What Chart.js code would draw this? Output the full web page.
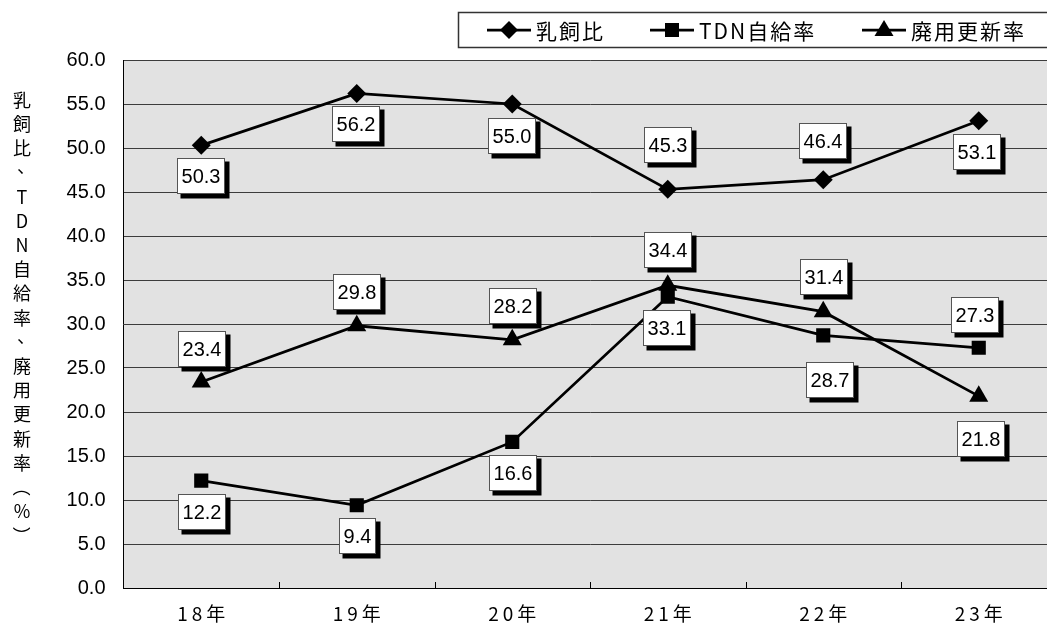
<!DOCTYPE html>
<html>
<head>
<meta charset="utf-8">
<script src="https://cdn.jsdelivr.net/npm/chart.js@4.4.1/dist/chart.umd.min.js"></script>
<style>
  html, body { margin: 0; padding: 0; background: #fff; overflow: hidden; }
  #wrap { position: relative; width: 1070px; height: 631px; }
</style>
</head>
<body>
<div id="wrap"><canvas id="chart" width="1070" height="631"></canvas></div>
<script>
const years = ['18年', '19年', '20年', '21年', '22年', '23年'];
const milkFeedRatio = [50.3, 56.2, 55.0, 45.3, 46.4, 53.1];
const tdnSelfRate = [12.2, 9.4, 16.6, 33.1, 28.7, 27.3];
const cullRate = [23.4, 29.8, 28.2, 34.4, 31.4, 21.8];
const seriesNames = ['乳飼比', 'TDN自給率', '廃用更新率'];
const yMin = 0, yMax = 60, yStep = 5;
const yTitle = '乳飼比、TDN自給率、廃用更新率（%）';

// where each value box sits, as offset of its centre from the point (px)
const labelOffsets = [
  [[-1, 30], [-1, 30.5], [-1, 31], [0, -45], [-1, -39.5], [-2, 31]],
  [[0, 31], [0, 30.5], [0, 30.5], [-1, 31], [6, 44], [-4, -33.5]],
  [[0, -34], [0, -34], [0, -34.5], [0, -35.5], [0, -35], [1.5, 42]]
];
// left end of each legend entry's sample line
const legendX = [487, 650, 862];

const CJK = '"Noto Sans CJK JP", sans-serif';
const SANS = '"Liberation Sans", Arial, sans-serif';

const plotBackground = {
  id: 'plotBackground',
  beforeDraw(chart) {
    const { ctx, chartArea: a } = chart;
    ctx.save();
    ctx.fillStyle = '#e2e2e2';
    ctx.fillRect(a.left, a.top, a.right - a.left, a.bottom - a.top);
    ctx.restore();
  }
};

const valueBoxes = {
  id: 'valueBoxes',
  afterDatasetsDraw(chart) {
    const ctx = chart.ctx;
    ctx.save();
    ctx.font = '20px ' + SANS;
    ctx.textAlign = 'center';
    ctx.textBaseline = 'middle';
    chart.data.datasets.forEach((ds, di) => {
      chart.getDatasetMeta(di).data.forEach((pt, i) => {
        const txt = ds.data[i].toFixed(1);
        const w = Math.round(ctx.measureText(txt).width) + 8;
        const h = 35;
        const cx = pt.x + labelOffsets[di][i][0];
        const cy = pt.y + labelOffsets[di][i][1];
        const l = Math.round(cx - w / 2) + 0.5;
        const t = Math.round(cy - h / 2) + 0.5;
        ctx.fillStyle = '#000';
        ctx.fillRect(l + 3, t + 3, w + 2, h + 2);
        ctx.fillStyle = '#fff';
        ctx.fillRect(l, t, w, h);
        ctx.strokeStyle = '#555';
        ctx.lineWidth = 1;
        ctx.strokeRect(l, t, w, h);
        ctx.fillStyle = '#000';
        ctx.fillText(txt, l + w / 2, t + h / 2 + 1);
      });
    });
    ctx.restore();
  }
};

function drawMarker(ctx, style, x, y) {
  ctx.beginPath();
  if (style === 'rectRot') {
    ctx.moveTo(x, y - 9); ctx.lineTo(x + 9, y); ctx.lineTo(x, y + 9); ctx.lineTo(x - 9, y);
  } else if (style === 'rect') {
    ctx.rect(x - 7, y - 7, 14, 14);
  } else {
    ctx.moveTo(x, y - 10); ctx.lineTo(x + 9.5, y + 6); ctx.lineTo(x - 9.5, y + 6);
  }
  ctx.closePath();
  ctx.fill();
}

const decorations = {
  id: 'decorations',
  afterDraw(chart) {
    const { ctx, chartArea: a } = chart;
    const xs = chart.scales.x;
    ctx.save();

    // inward tick marks on the category axis
    ctx.strokeStyle = '#000';
    ctx.lineWidth = 1;
    for (let i = 1; i < years.length; i++) {
      const x = Math.round((xs.getPixelForValue(i - 1) + xs.getPixelForValue(i)) / 2) + 0.5;
      ctx.beginPath();
      ctx.moveTo(x, a.bottom);
      ctx.lineTo(x, a.bottom - 6);
      ctx.stroke();
    }

    // category labels
    ctx.fillStyle = '#000';
    ctx.font = '19px ' + CJK;
    ctx.textBaseline = 'middle';
    ctx.textAlign = 'left';
    ctx.letterSpacing = '4px';
    years.forEach((lab, i) => {
      const w = ctx.measureText(lab).width - 4;
      ctx.fillText(lab, xs.getPixelForValue(i) - w / 2, 614);
    });
    ctx.letterSpacing = '0px';

    // vertical axis title, one character per row
    ctx.font = '18px ' + CJK;
    ctx.textAlign = 'center';
    const chars = Array.from(yTitle);
    const step = 24.2;
    const y0 = 100;
    chars.forEach((ch, i) => {
      const y = y0 + i * step;
      if (ch === '（' || ch === '）') {
        ctx.save();
        ctx.translate(22, y);
        ctx.rotate(Math.PI / 2);
        ctx.fillText(ch, 0, 0);
        ctx.restore();
      } else if (ch === '、') {
        ctx.fillText(ch, 26, y - 6);
      } else {
        ctx.fillText(ch, 22, y);
      }
    });

    // legend box
    ctx.fillStyle = '#fff';
    ctx.fillRect(458.5, 12.5, 700, 35);
    ctx.strokeStyle = '#333';
    ctx.lineWidth = 1.5;
    ctx.strokeRect(458.5, 12.5, 700, 35);
    ctx.font = '21px ' + CJK;
    ctx.textAlign = 'left';
    ctx.letterSpacing = '2px';
    const ly = 30;
    chart.data.datasets.forEach((ds, i) => {
      const lx = legendX[i];
      ctx.strokeStyle = '#000';
      ctx.lineWidth = 2.75;
      ctx.beginPath();
      ctx.moveTo(lx, ly);
      ctx.lineTo(lx + 44, ly);
      ctx.stroke();
      ctx.fillStyle = '#000';
      drawMarker(ctx, ds.pointStyle, lx + 22, ly);
      ctx.fillText(ds.label, lx + 49, ly + 1);
    });
    ctx.letterSpacing = '0px';

    ctx.restore();
  }
};

const seriesValues = [milkFeedRatio, tdnSelfRate, cullRate];
const pointStyles = ['rectRot', 'rect', 'triangle'];
const pointRadii = [9.5, 10, 11];

new Chart(document.getElementById('chart'), {
  type: 'line',
  data: {
    labels: years,
    datasets: seriesValues.map((vals, i) => ({
      label: seriesNames[i],
      data: vals,
      borderColor: '#000',
      borderWidth: 2.75,
      backgroundColor: '#000',
      pointStyle: pointStyles[i],
      pointRadius: pointRadii[i],
      pointBackgroundColor: '#000',
      pointBorderWidth: 0,
      tension: 0,
      fill: false
    }))
  },
  options: {
    responsive: false,
    animation: false,
    events: [],
    layout: {
      padding: { top: 60, right: 13.5, left: 0, bottom: 0 }
    },
    scales: {
      x: {
        type: 'category',
        offset: true,
        grid: { display: false },
        ticks: { display: false },
        border: { display: true, color: '#000', width: 1 },
        afterFit: (s) => { s.height = 43; }
      },
      y: {
        min: yMin,
        max: yMax,
        ticks: {
          stepSize: yStep,
          callback: (v) => v.toFixed(1),
          font: { size: 20, family: SANS },
          color: '#000',
          padding: 18
        },
        grid: { color: '#3c3c3c', lineWidth: 1, drawTicks: false },
        border: { display: true, color: '#000', width: 1 },
        afterFit: (s) => { s.width = 123.5; }
      }
    },
    plugins: {
      legend: { display: false },
      title: { display: false },
      tooltip: { enabled: false }
    }
  },
  plugins: [plotBackground, valueBoxes, decorations]
});
</script>
</body>
</html>
